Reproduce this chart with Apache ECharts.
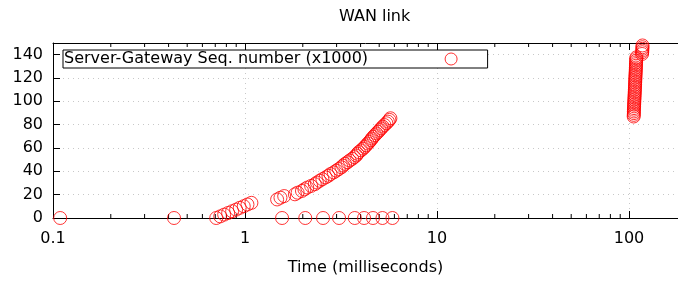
<!DOCTYPE html>
<html>
<head>
<meta charset="utf-8">
<script src="https://cdn.jsdelivr.net/npm/echarts@6/dist/echarts.min.js"></script>
<style>
  html, body { margin: 0; padding: 0; background: #fff; }
  #chart { width: 678px; height: 282px; }
</style>
</head>
<body>
<div id="chart"></div>
<script>
const chartTitle = 'WAN link';
const xAxisName = 'Time (milliseconds)';
const seriesName = 'Server-Gateway Seq. number (x1000)';

// time in ms, seq number in thousands
const timeMs = [
  0.109, 0.427, 1.56, 2.06, 2.55, 3.09, 3.73, 4.17, 4.64, 5.20, 5.86,
  0.708, 0.743, 0.779, 0.817, 0.857, 0.899, 0.939, 0.985, 1.03, 1.08,
  1.47, 1.53, 1.60, 1.82, 1.88, 1.98, 2.04, 2.11, 2.21, 2.31, 2.37, 2.45, 2.53,
  2.63, 2.72, 2.79, 2.90, 2.99, 3.08, 3.18, 3.24, 3.32, 3.42, 3.51, 3.62, 3.71,
  3.80, 3.85, 3.92, 4.02, 4.12, 4.20, 4.28, 4.36, 4.44, 4.52, 4.58, 4.66, 4.75,
  4.84, 4.94, 5.03, 5.12, 5.22, 5.32, 5.45, 5.55, 5.65, 5.72,
  105.8, 105.9, 106.0, 106.0, 106.1, 106.2, 106.3, 106.4, 106.5, 106.6, 106.7, 106.8,
  106.9, 107.0, 107.1, 107.2, 107.3, 107.4, 107.5, 107.6, 107.7, 107.8, 107.9, 108.0,
  108.1, 108.2, 108.3, 108.4, 108.5, 108.6, 108.7, 108.8, 108.9, 109.0, 109.1, 109.3,
  117.0, 117.2, 117.3, 117.4, 117.5, 117.6
];
const seqK = [
  0, 0, 0, 0, 0, 0, 0, 0, 0, 0, 0,
  0, 1.4, 2.9, 4.3, 5.8, 7.2, 8.7, 10.1, 11.6, 13.0,
  15.9, 17.4, 18.8, 20.3, 21.7, 23.2, 24.6, 26.1, 27.5, 29.0, 30.4, 31.9, 33.3,
  34.8, 36.2, 37.7, 39.1, 40.6, 42.0, 43.5, 44.9, 46.4, 47.8, 49.3, 50.7, 52.2,
  53.6, 55.1, 56.5, 58.0, 59.4, 60.9, 62.3, 63.8, 65.2, 66.7, 68.1, 69.6, 71.0,
  72.5, 73.9, 75.4, 76.8, 78.3, 79.7, 81.2, 82.6, 84.1, 85.5,
  87.0, 88.4, 89.9, 91.3, 92.8, 94.2, 95.7, 97.1, 98.6, 100.0, 101.5, 102.9,
  104.4, 105.8, 107.3, 108.7, 110.2, 111.6, 113.1, 114.5, 116.0, 117.4, 118.9, 120.3,
  121.8, 123.2, 124.7, 126.1, 127.6, 129.0, 130.5, 131.9, 133.4, 134.8, 136.3, 137.7,
  140.6, 142.1, 143.5, 145.0, 146.4, 147.9
];

// log axis minor tick positions
const minorTicks = [0.2, 0.3, 0.4, 0.5, 0.6, 0.7, 0.8, 0.9,
  2, 3, 4, 5, 6, 7, 8, 9, 20, 30, 40, 50, 60, 70, 80, 90];

const xMin = 0.1, xMax = 180;
const yMin = 0, yMax = 150, yStep = 20;

const font = 'DejaVu Sans';
const fontSize = 16;
const ink = '#000';

const chart = echarts.init(document.getElementById('chart'));

const option = {
  animation: false,
  textStyle: { fontFamily: font },
  title: {
    text: chartTitle,
    left: 334,
    top: 4,
    textStyle: { fontFamily: font, fontSize: fontSize, fontWeight: 'normal', color: ink }
  },
  grid: { left: 53, top: 43, right: 0, bottom: 64 },
  legend: {
    left: 63,
    top: 50,
    align: 'right',
    padding: [1, 30, 1, 1],
    backgroundColor: '#fff',
    borderColor: ink,
    borderWidth: 1,
    borderRadius: 0,
    itemWidth: 12,
    itemHeight: 12,
    textStyle: {
      fontFamily: font,
      fontSize: fontSize,
      color: ink,
      padding: [0, 72, 0, 0]
    },
    data: [{
      name: seriesName,
      icon: 'circle',
      itemStyle: { color: 'transparent', borderColor: '#ff0000', borderWidth: 1 }
    }]
  },
  xAxis: [
    {
      type: 'log',
      min: xMin,
      max: xMax,
      logBase: 10,
      name: xAxisName,
      nameLocation: 'middle',
      nameGap: 42,
      nameTextStyle: { fontFamily: font, fontSize: fontSize, color: ink },
      axisLine: { lineStyle: { color: ink, width: 1 } },
      axisTick: { inside: true, length: 7, lineStyle: { color: ink } },
      axisLabel: {
        fontFamily: font, fontSize: fontSize, color: ink, margin: 13,
        showMaxLabel: false
      },
      splitLine: { show: true, lineStyle: { color: '#c8c8c8', type: [1, 4], width: 1 } }
    },
    {
      type: 'log',
      position: 'top',
      min: xMin,
      max: xMax,
      logBase: 10,
      axisLine: { lineStyle: { color: ink, width: 1 } },
      axisTick: { inside: true, length: 7, lineStyle: { color: ink } },
      axisLabel: { show: false },
      splitLine: { show: false }
    }
  ],
  yAxis: {
    type: 'value',
    min: yMin,
    max: yMax,
    interval: yStep,
    axisLine: { show: true, lineStyle: { color: ink, width: 1 } },
    axisTick: { show: true, inside: true, length: 7, lineStyle: { color: ink } },
    axisLabel: {
      fontFamily: font, fontSize: fontSize, color: ink, margin: 10,
      showMaxLabel: false
    },
    splitLine: { show: true, lineStyle: { color: '#c8c8c8', type: [1, 4], width: 1 } }
  },
  series: [
    {
      name: seriesName,
      type: 'scatter',
      symbol: 'circle',
      symbolSize: 13,
      clip: false,
      itemStyle: { color: 'transparent', borderColor: '#ff0000', borderWidth: 1 },
      emphasis: { disabled: true },
      data: timeMs.map((t, i) => [t, seqK[i]]),
      z: 5
    },
    {
      // minor ticks on bottom axis and top border
      type: 'custom',
      silent: true,
      data: minorTicks.map(v => [v, yMin]),
      renderItem: function(params, api) {
        const v = api.value(0);
        const bottom = api.coord([v, yMin]);
        const top = api.coord([v, yMax]);
        const style = { stroke: ink, lineWidth: 1 };
        return {
          type: 'group',
          children: [
            { type: 'line', shape: { x1: bottom[0], y1: bottom[1], x2: bottom[0], y2: bottom[1] - 4 }, style: style },
            { type: 'line', shape: { x1: top[0], y1: top[1], x2: top[0], y2: top[1] + 4 }, style: style }
          ]
        };
      },
      z: 4
    }
  ]
};

chart.setOption(option);
</script>
</body>
</html>
